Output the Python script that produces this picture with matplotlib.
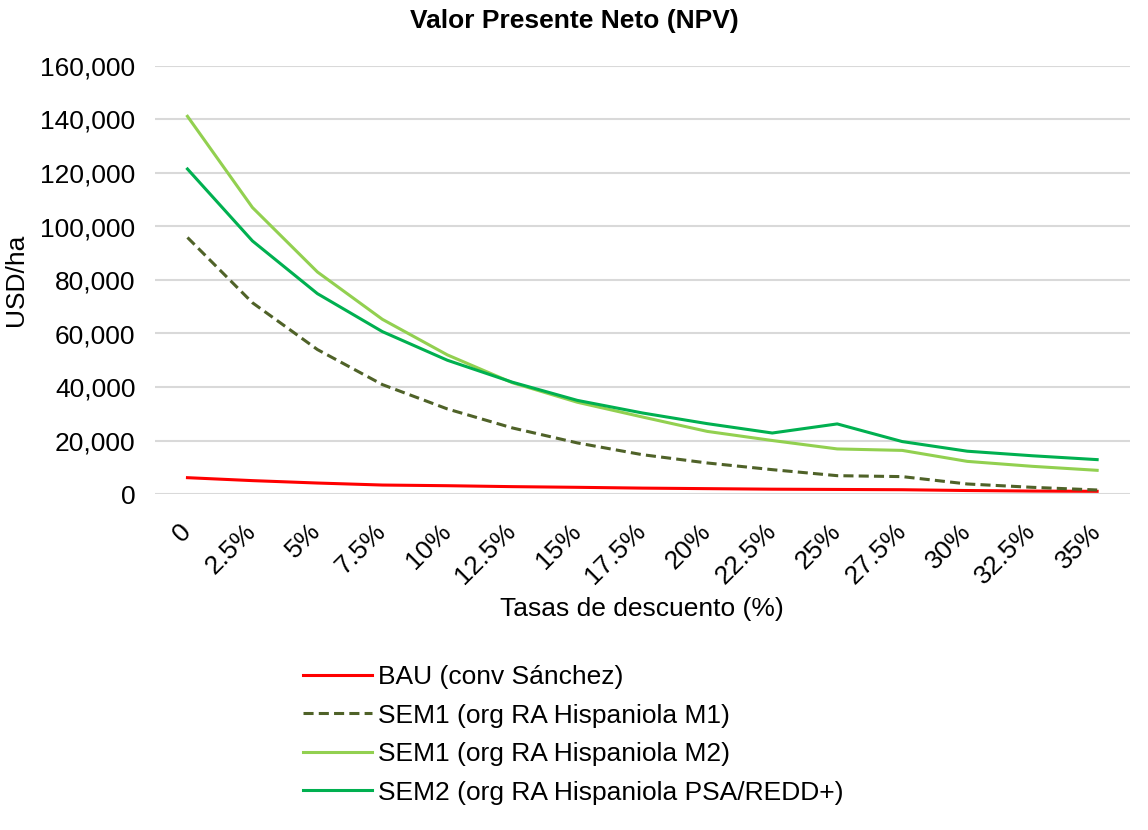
#!/usr/bin/env python

import matplotlib.pyplot as plt
from matplotlib.ticker import FuncFormatter

plt.rcParams['font.family'] = ['Liberation Sans', 'DejaVu Sans']

tasas = ["0", "2.5%", "5%", "7.5%", "10%", "12.5%", "15%", "17.5%", "20%",
         "22.5%", "25%", "27.5%", "30%", "32.5%", "35%"]

bau = [6100, 5000, 4100, 3350, 3100, 2750, 2500, 2200, 2000, 1800, 1700, 1600, 1300, 1100, 1000]
sem1_m1 = [95900, 71500, 54000, 40900, 31800, 24700, 19100, 14700, 11600, 9100, 6850, 6500, 3750, 2500, 1500]
sem1_m2 = [141200, 107100, 83000, 65300, 52000, 41600, 34300, 28800, 23400, 20000, 16850, 16300, 12200, 10350, 8850]
sem2 = [121500, 94600, 74900, 60700, 50000, 41800, 35000, 30300, 26300, 22800, 26200, 19600, 16000, 14300, 12850]

fs = 19

fig = plt.figure(figsize=(11.48, 8.30), dpi=100)
ax = fig.add_axes([0.135, 1 - 494 / 830, 0.849, 428 / 830])

x = range(len(tasas))
ax.plot(x, bau, color="#FF0000", lw=2.2, label="BAU (conv Sánchez)")
ax.plot(x, sem1_m1, color="#4F6228", lw=2.2, ls=(0, (3.3, 1.7)), label="SEM1 (org RA Hispaniola M1)")
ax.plot(x, sem1_m2, color="#92D050", lw=2.2, label="SEM1 (org RA Hispaniola M2)")
ax.plot(x, sem2, color="#00B050", lw=2.2, label="SEM2 (org RA Hispaniola PSA/REDD+)")

ax.set_xlim(-0.5, len(tasas) - 0.5)
ax.set_ylim(0, 160000)
ax.set_yticks(range(0, 160001, 20000))
ax.yaxis.set_major_formatter(FuncFormatter(lambda v, p: f"{int(v):,}"))
ax.set_xticks(list(x))
ax.set_xticklabels(tasas, rotation=45, ha="right", va="center", rotation_mode="anchor")
ax.tick_params(axis="both", length=0, labelsize=fs, colors="#000000")
ax.tick_params(axis="y", pad=14)
ax.tick_params(axis="x", pad=24)
ax.grid(axis="y", color="#D9D9D9", lw=1.5)
ax.set_axisbelow(True)
for s in ax.spines.values():
    s.set_visible(False)

fig.text(0.5, 1 - 21 / 830, "Valor Presente Neto (NPV)", fontsize=fs, fontweight="bold",
         ha="center", va="center")
ax.set_ylabel("USD/ha", fontsize=fs, va="center")
ax.yaxis.set_label_coords(-0.1426, 0.5)
ax.set_xlabel("Tasas de descuento (%)", fontsize=fs, va="center")
ax.xaxis.set_label_coords(0.5, (494 - 609) / 428)

fig.legend(loc="upper left", bbox_to_anchor=(303 / 1148, 1 - 665 / 830), frameon=False,
           fontsize=fs, handlelength=2.6, labelspacing=0.55, handletextpad=0.25,
           borderpad=0, borderaxespad=0)

fig.savefig("out.png")
plt.close(fig)
